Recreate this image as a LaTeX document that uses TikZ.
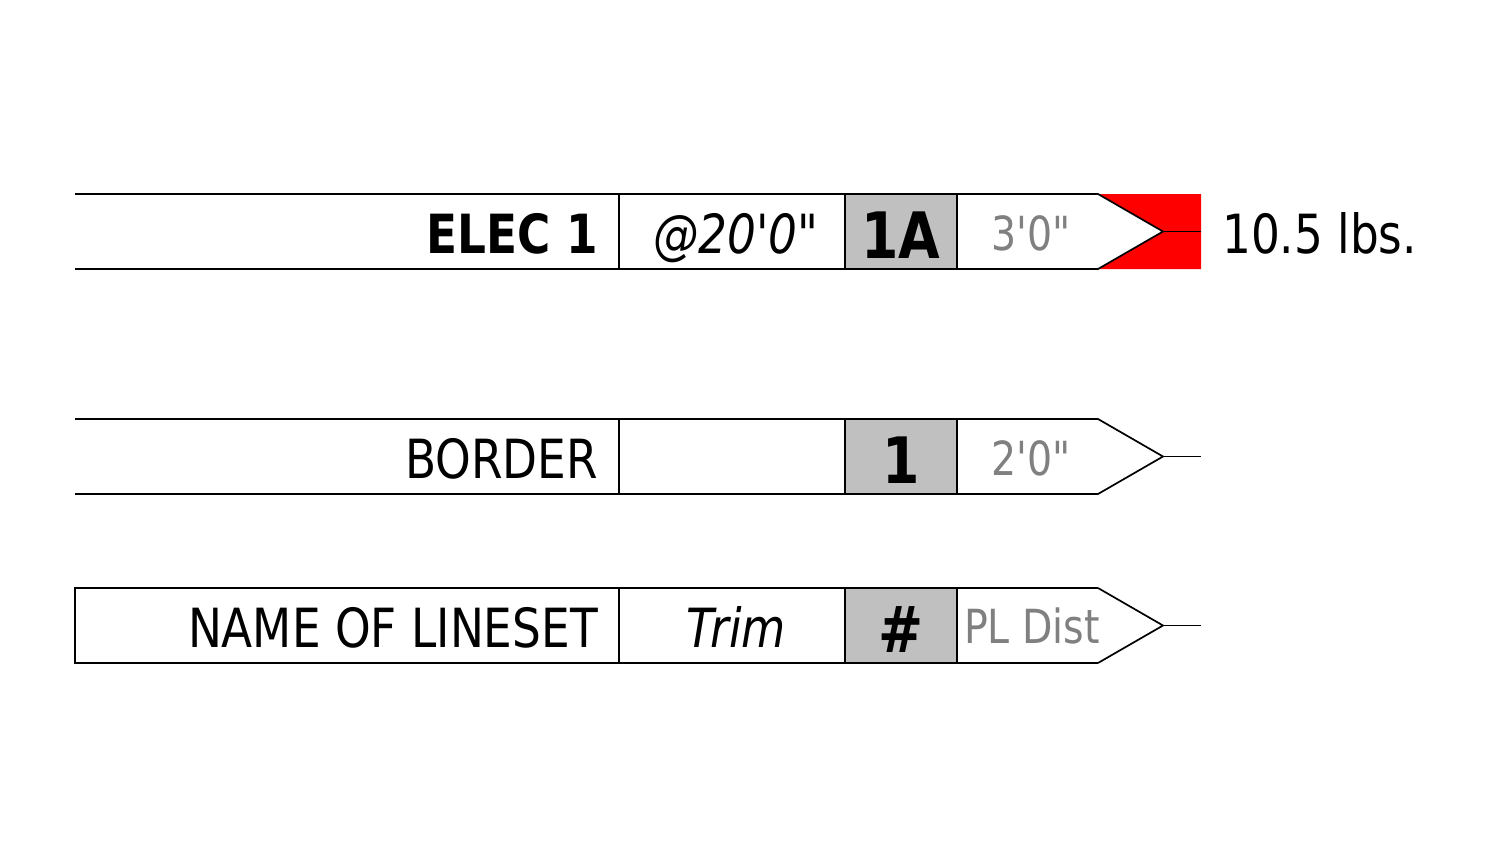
\documentclass[tikz,border=0pt]{standalone}
\usepackage{fontspec}
\setmainfont{DejaVu Sans}[FakeStretch=0.84, Ligatures=TeXOff]
\definecolor{silverbox}{HTML}{C0C0C0}
\definecolor{graytext}{HTML}{808080}
\definecolor{redfill}{HTML}{FF0000}
\tikzset{
  outline/.style={line width=1.7pt, black},
  namecell/.style={anchor=base east, inner sep=0pt, font=\fontsize{54}{60}\selectfont},
  boldname/.style={namecell, font=\fontsize{54}{60}\selectfont\bfseries},
  trimcell/.style={anchor=base, inner sep=0pt, font=\fontsize{54}{60}\selectfont\itshape},
  graybox/.style={draw, line width=1.7pt, fill=silverbox, minimum width=112pt, minimum height=75pt, inner sep=0pt},
  numcell/.style={anchor=base, inner sep=0pt, font=\fontsize{64}{70}\selectfont\bfseries},
  distcell/.style={anchor=base, inner sep=0pt, text=graytext, font=\fontsize{47}{52}\selectfont},
  weightcell/.style={anchor=base west, inner sep=0pt, font=\fontsize{54}{60}\selectfont},
}
\begin{document}
\begin{tikzpicture}[x=1pt,y=-1pt]
\useasboundingbox (0,0) rectangle (1491,862);
% ---------- Row 1
\fill[redfill] (1098,194) -- (1201,194) -- (1201,269) -- (1098,269) -- (1163,231.5) -- cycle;
\draw[outline] (75,194) -- (1098,194) -- (1163,231.5) -- (1098,269) -- (75,269);
\draw[outline] (619,194) -- (619,269);
\node[graybox] (box1) at (901,231.5) {};
\coordinate (tip1) at (1163,231.5);
\coordinate (end1) at (1201,231.5);
\draw[outline] (tip1) -- (end1);
\node[boldname] (name1) at (598,253) {ELEC 1};
\node[trimcell] (trim1) at (736,253) {@20'0"};
\node[numcell] (num1) at (901,258) {1A};
\node[distcell] (dist1) at (1031,250) {3'0"};
\node[weightcell] (wt1) at (1222,253) {10.5 lbs.};
% ---------- Row 2
\draw[outline] (75,419) -- (1098,419) -- (1163,456.5) -- (1098,494) -- (75,494);
\draw[outline] (619,419) -- (619,494);
\node[graybox] (box2) at (901,456.5) {};
\coordinate (tip2) at (1163,456.5);
\coordinate (end2) at (1201,456.5);
\draw[outline] (tip2) -- (end2);
\node[namecell] (name2) at (598,478) {BORDER};
\node[numcell] (num2) at (901,483) {1};
\node[distcell] (dist2) at (1031,475) {2'0"};
% ---------- Row 3
\draw[outline] (1098,588) -- (75,588) -- (75,663) -- (1098,663);
\draw[outline] (1098,588) -- (1163,625.5) -- (1098,663);
\draw[outline] (619,588) -- (619,663);
\node[graybox] (box3) at (901,625.5) {};
\coordinate (tip3) at (1163,625.5);
\coordinate (end3) at (1201,625.5);
\draw[outline] (tip3) -- (end3);
\node[namecell] (name3) at (598,647) {NAME OF LINESET};
\node[trimcell] (trim3) at (736,647) {Trim};
\node[numcell] (num3) at (901,652) {\#};
\node[distcell] (dist3) at (1032,643) {PL Dist};
\end{tikzpicture}
\end{document}
